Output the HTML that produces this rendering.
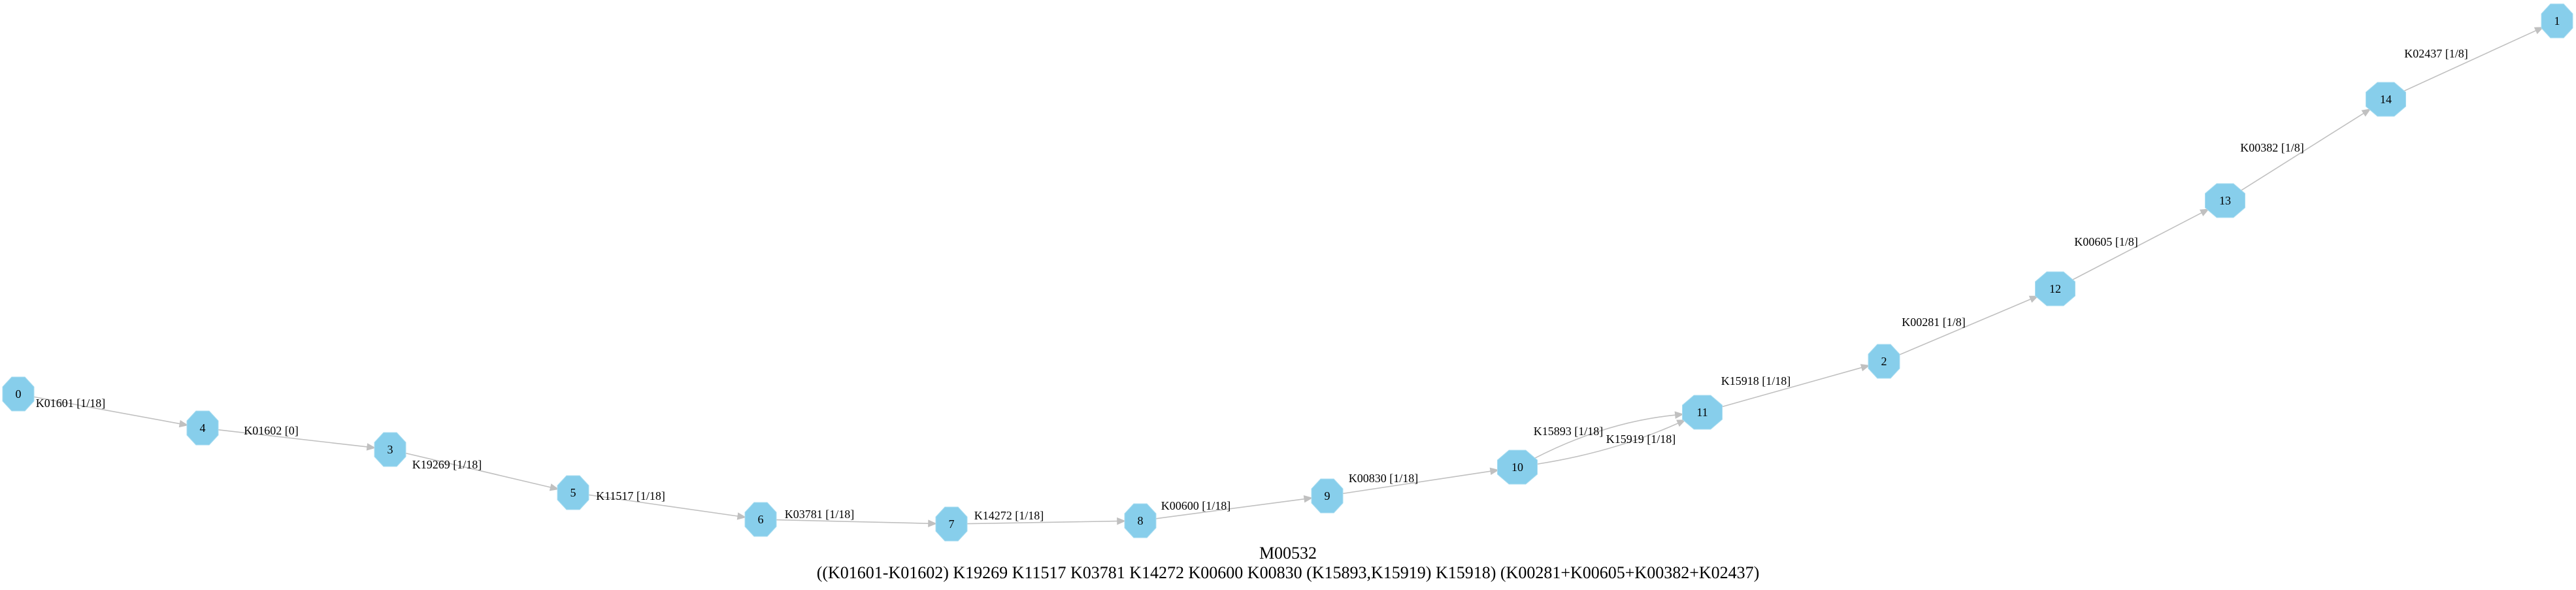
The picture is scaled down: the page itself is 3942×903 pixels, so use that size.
<!DOCTYPE html>
<html><head><meta charset="utf-8"><style>
html,body{margin:0;padding:0;background:#fff;}
svg{display:block;font-family:"Liberation Serif","Times New Roman",serif;}
</style></head><body>
<svg id="g" width="3942" height="903" viewBox="0 0 3942 903">
<text x="1971" y="855" font-size="26" text-anchor="middle">M00532</text>
<text x="1971" y="885" font-size="26" text-anchor="middle">((K01601-K01602) K19269 K11517 K03781 K14272 K00600 K00830 (K15893,K15919) K15918) (K00281+K00605+K00382+K02437)</text>
</svg>
<script>
const nodeIds = ['0','4','3','5','6','7','8','9','10','11','2','12','13','14','1'];
const nodeX = [28,310,597,877,1164,1456,1745,2031,2322,2605,2883,3145,3405,3651,3913];
const nodeY = [603,655,688,754,795,802,797,759,715,631,553,442,307,152,32];
const edgeFrom = ['0','4','3','5','6','7','8','9','10','10','11','2','12','13','14'];
const edgeTo   = ['4','3','5','6','7','8','9','10','11','11','2','12','13','14','1'];
const edgeBend = [0,0,0,0,0,0,0,0,-14,10,0,0,0,0,0];
const edgeLabels = ['K01601 [1/18]','K01602 [0]','K19269 [1/18]','K11517 [1/18]','K03781 [1/18]','K14272 [1/18]','K00600 [1/18]','K00830 [1/18]','K15893 [1/18]','K15919 [1/18]','K15918 [1/18]','K00281 [1/8]','K00605 [1/8]','K00382 [1/8]','K02437 [1/8]'];
const labelX = [108,415,684,965,1254,1544,1830,2117,2400,2511,2687,2959,3223,3477,3728];
const labelY = [617,659,711,759,787,789,774,732,660,672,583,493,370,226,82];

const NS='http://www.w3.org/2000/svg';
const svg=document.getElementById('g');
function el(t,a){const e=document.createElementNS(NS,t);for(const k in a)e.setAttribute(k,a[k]);return e;}
function idx(id){return nodeIds.indexOf(id);}
function halfW(id){return id.length>1?30.5:24;}
const HH=26;
function clip(cx,cy,hw,dx,dy){
  const t=1/Math.sqrt((dx*dx)/(hw*hw)+(dy*dy)/(HH*HH));
  return [cx+dx*t*0.97,cy+dy*t*0.97];
}
const edgeLayer=el('g',{});


svg.appendChild(edgeLayer);
for(let i=0;i<edgeFrom.length;i++){
  const a=idx(edgeFrom[i]),b=idx(edgeTo[i]);
  const x1=nodeX[a],y1=nodeY[a],x2=nodeX[b],y2=nodeY[b];
  const mx=(x1+x2)/2,my=(y1+y2)/2;
  const len=Math.hypot(x2-x1,y2-y1);
  const nx=-(y2-y1)/len,ny=(x2-x1)/len;
  const cx=mx+nx*edgeBend[i]*2,cy=my+ny*edgeBend[i]*2;
  const s=clip(x1,y1,halfW(edgeFrom[i]),cx-x1,cy-y1);
  const e=clip(x2,y2,halfW(edgeTo[i]),cx-x2,cy-y2);
  let dx=e[0]-cx,dy=e[1]-cy;const dl=Math.hypot(dx,dy);dx/=dl;dy/=dl;
  const al=12,aw=5;
  const bx=e[0]-dx*al,by=e[1]-dy*al;
  const p=el('path',{d:`M${s[0]},${s[1]} Q${cx},${cy} ${bx},${by}`,fill:'none',stroke:'#c0c0c0','stroke-width':1.6});
  
  
  edgeLayer.appendChild(p);
  const h=el('polygon',{points:`${e[0]},${e[1]} ${bx-dy*aw},${by+dx*aw} ${bx+dy*aw},${by-dx*aw}`,fill:'#c0c0c0',stroke:'#c0c0c0'});
  
  
  edgeLayer.appendChild(h);
  const t=el('text',{x:labelX[i],y:labelY[i]+6,'font-size':18,'text-anchor':'middle',fill:'#000'});
  t.textContent=edgeLabels[i];
  
  
  svg.appendChild(t);
}
for(let i=0;i<nodeIds.length;i++){
  const x=nodeX[i],y=nodeY[i],w=halfW(nodeIds[i]),h=HH;
  const kx=w*0.42,ky=h*0.42;
  const pts=[[x-kx,y-h],[x+kx,y-h],[x+w,y-ky],[x+w,y+ky],[x+kx,y+h],[x-kx,y+h],[x-w,y+ky],[x-w,y-ky]].map(p=>p.join(',')).join(' ');
  const g=el('g',{});
  
  
  g.appendChild(el('polygon',{points:pts,fill:'#87ceeb',stroke:'#a8dcf0','stroke-width':1}));
  const t=el('text',{x:x,y:y+6,'font-size':18,'text-anchor':'middle',fill:'#000'});
  t.textContent=nodeIds[i];
  g.appendChild(t);
  svg.appendChild(g);
}
</script>
</body></html>
